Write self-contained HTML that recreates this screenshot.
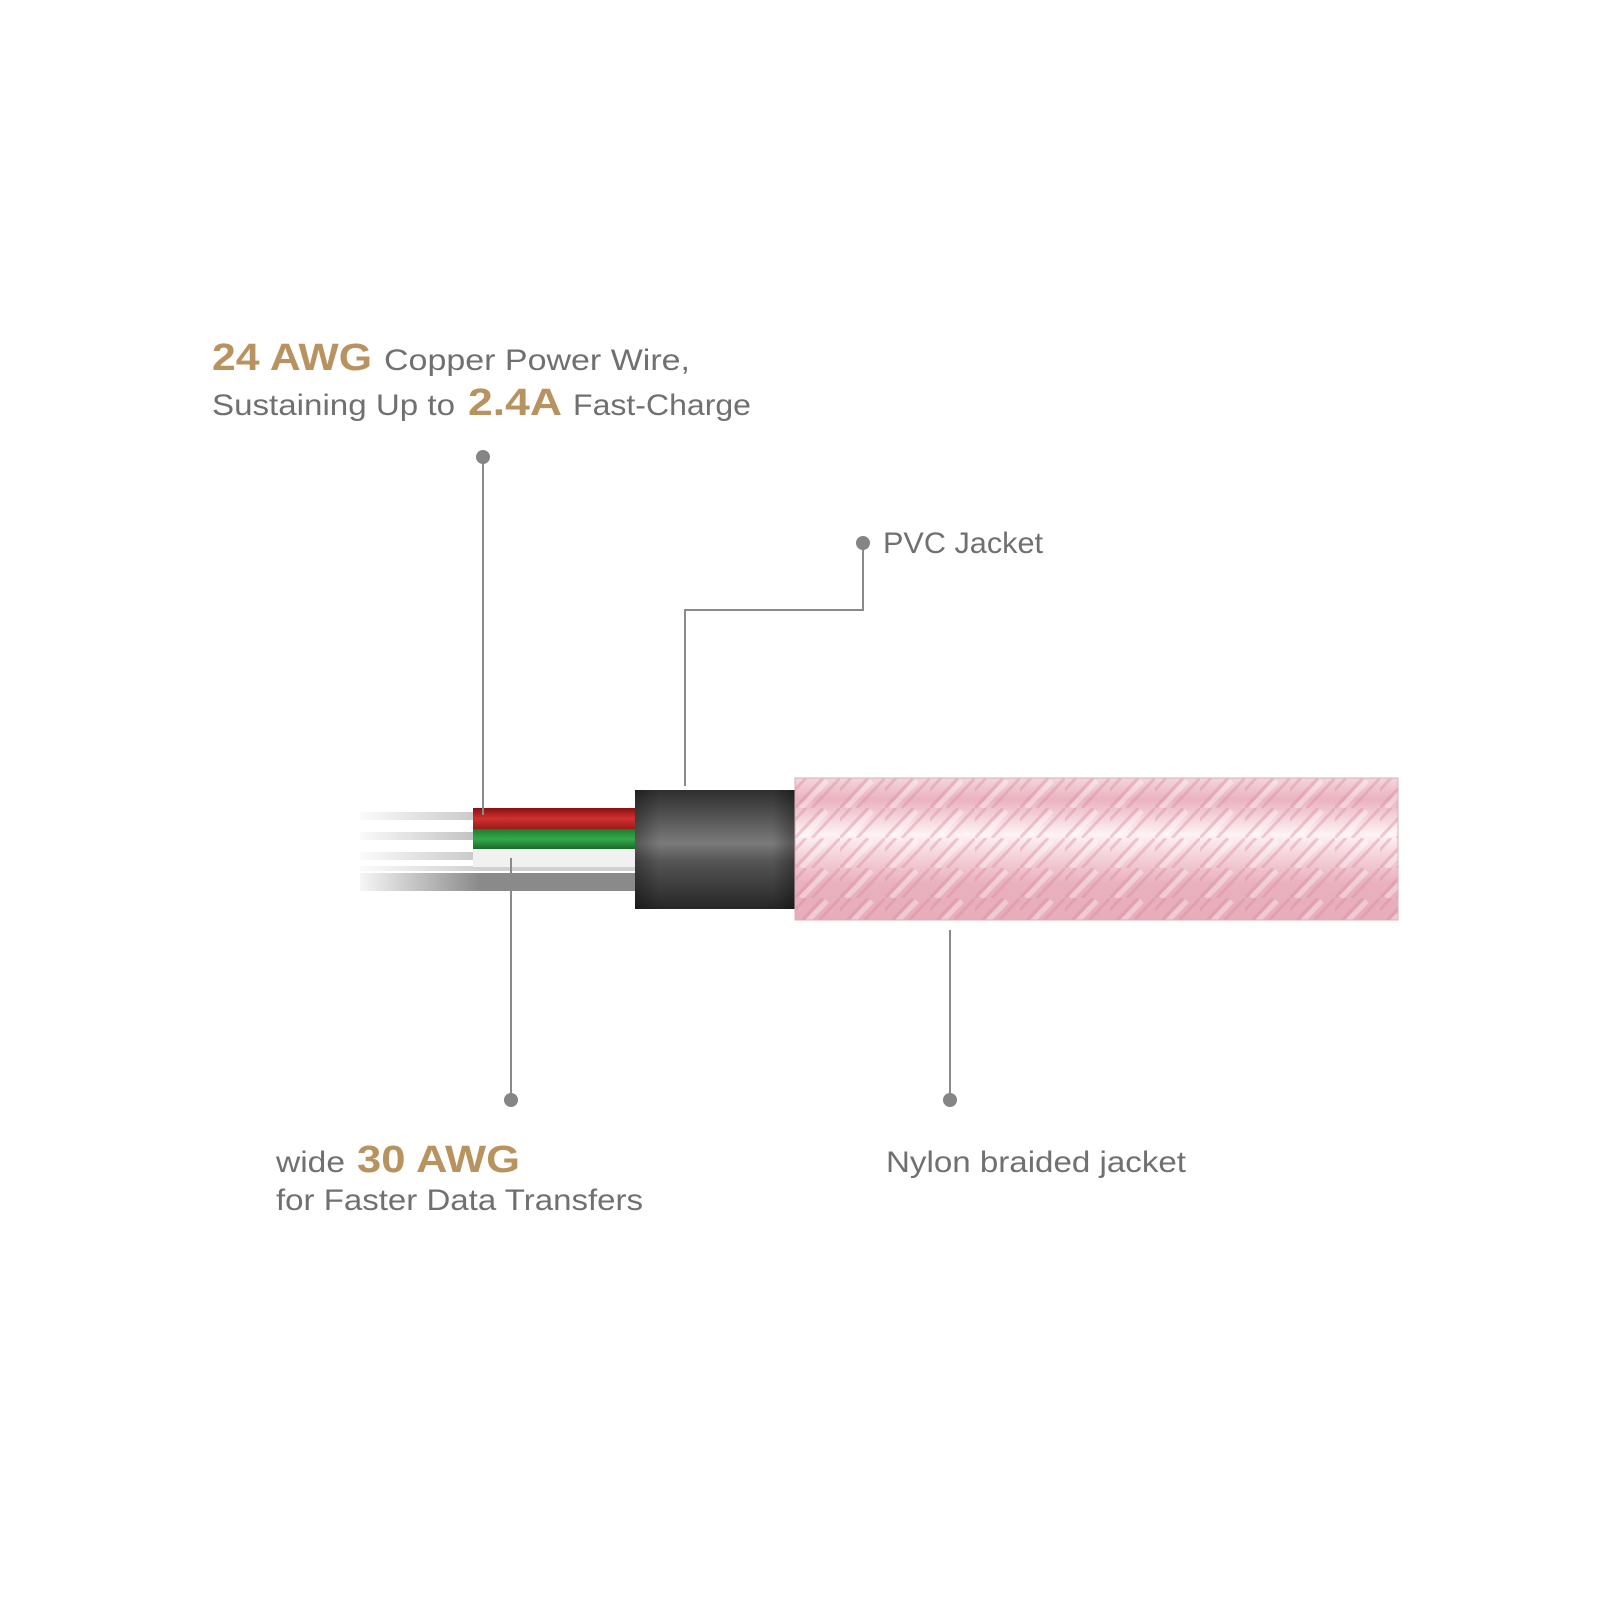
<!DOCTYPE html>
<html><head><meta charset="utf-8"><style>
html,body{margin:0;padding:0;background:#fff;}
svg{display:block}
text{font-family:"Liberation Sans",sans-serif;}
</style></head><body>
<svg width="1600" height="1600" viewBox="0 0 1600 1600" xmlns="http://www.w3.org/2000/svg">
<defs>
<linearGradient id="pvc" x1="0" y1="0" x2="0" y2="1">
<stop offset="0" stop-color="#2e2e2e"/><stop offset="0.45" stop-color="#7a7a7a"/><stop offset="0.6" stop-color="#555"/><stop offset="1" stop-color="#262626"/></linearGradient>
<linearGradient id="pvch" x1="0" y1="0" x2="1" y2="0">
<stop offset="0" stop-color="#000" stop-opacity="0.3"/><stop offset="0.15" stop-color="#000" stop-opacity="0"/><stop offset="0.85" stop-color="#000" stop-opacity="0"/><stop offset="1" stop-color="#000" stop-opacity="0.35"/></linearGradient>
<linearGradient id="red" x1="0" y1="0" x2="0" y2="1"><stop offset="0" stop-color="#8a1010"/><stop offset="0.5" stop-color="#d03030"/><stop offset="1" stop-color="#9a1a1a"/></linearGradient>
<linearGradient id="grn" x1="0" y1="0" x2="0" y2="1"><stop offset="0" stop-color="#1d7a2e"/><stop offset="0.5" stop-color="#35a84a"/><stop offset="1" stop-color="#1a6a28"/></linearGradient>
<linearGradient id="fadeL" x1="0" y1="0" x2="1" y2="0"><stop offset="0" stop-color="#fff" stop-opacity="1"/><stop offset="1" stop-color="#fff" stop-opacity="0"/></linearGradient>
<linearGradient id="braidV" x1="0" y1="0" x2="0" y2="1">
<stop offset="0" stop-color="#f3d6dc"/><stop offset="0.15" stop-color="#eab3c0"/><stop offset="0.4" stop-color="#fdf2f4"/><stop offset="0.55" stop-color="#f4d2da"/><stop offset="0.75" stop-color="#e9b0bd"/><stop offset="1" stop-color="#e7adba"/></linearGradient>
<pattern id="braid" x="795" y="778" width="45" height="30" patternUnits="userSpaceOnUse">
<path d="M0 30 L28 0 M17 30 L45 0 M-17 30 L11 0" fill="none" stroke="#d88d9f" stroke-width="3" stroke-opacity="0.4"/>
<path d="M6 30 L32 3" fill="none" stroke="#fff" stroke-width="5" stroke-opacity="0.35"/>
</pattern>
</defs>
<rect width="1600" height="1600" fill="#fff"/>
<g>
<rect x="360" y="812" width="120" height="8" fill="#c8c8c8"/>
<rect x="360" y="832" width="120" height="8" fill="#c0c0c0"/>
<rect x="360" y="852" width="120" height="8" fill="#c8c8c8"/>
<rect x="360" y="873" width="280" height="18" fill="#8a8a8a"/>
<rect x="360" y="866" width="280" height="5" fill="#d0d0d0"/>
<rect x="350" y="805" width="130" height="95" fill="url(#fadeL)"/>
<rect x="473" y="808" width="162" height="21" fill="url(#red)"/>
<rect x="473" y="829" width="162" height="20" fill="url(#grn)"/>
<rect x="473" y="849" width="162" height="18" fill="#f1f1f1"/>
</g>
<rect x="635" y="790" width="162" height="119" fill="url(#pvc)"/>
<rect x="635" y="790" width="162" height="119" fill="url(#pvch)"/>
<rect x="795" y="778" width="603" height="142" fill="url(#braidV)"/>
<rect x="795" y="778" width="603" height="142" fill="url(#braid)"/>
<rect x="795" y="778" width="603" height="142" fill="none" stroke="#d8b0b8" stroke-width="1"/>
<g stroke="#8a8a8a" stroke-width="2" fill="none">
<line x1="483" y1="457" x2="483" y2="815"/>
<polyline points="863,543 863,610 685,610 685,786"/>
<line x1="511" y1="858" x2="511" y2="1100"/>
<line x1="950" y1="930" x2="950" y2="1100"/>
</g>
<g fill="#858585">
<circle cx="483" cy="457" r="7"/><circle cx="863" cy="543" r="7"/><circle cx="511" cy="1100" r="7"/><circle cx="950" cy="1100" r="7"/>
</g>
<g fill="#707070" font-size="30">
<text x="212" y="370" font-size="38" fill="#b8925f" font-weight="bold" textLength="160" lengthAdjust="spacingAndGlyphs">24 AWG</text>
<text x="384" y="370" textLength="306" lengthAdjust="spacingAndGlyphs">Copper Power Wire,</text>
<text x="212" y="415" textLength="243" lengthAdjust="spacingAndGlyphs">Sustaining Up to</text>
<text x="468" y="415" font-size="38" fill="#b8925f" font-weight="bold" textLength="94" lengthAdjust="spacingAndGlyphs">2.4A</text>
<text x="573" y="415" textLength="178" lengthAdjust="spacingAndGlyphs">Fast-Charge</text>
<text x="883" y="553" textLength="160" lengthAdjust="spacingAndGlyphs">PVC Jacket</text>
<text x="276" y="1172" textLength="69" lengthAdjust="spacingAndGlyphs">wide</text>
<text x="357" y="1172" font-size="38" fill="#b8925f" font-weight="bold" textLength="163" lengthAdjust="spacingAndGlyphs">30 AWG</text>
<text x="276" y="1210" textLength="367" lengthAdjust="spacingAndGlyphs">for Faster Data Transfers</text>
<text x="886" y="1172" textLength="300" lengthAdjust="spacingAndGlyphs">Nylon braided jacket</text>
</g>
</svg>
</body></html>
